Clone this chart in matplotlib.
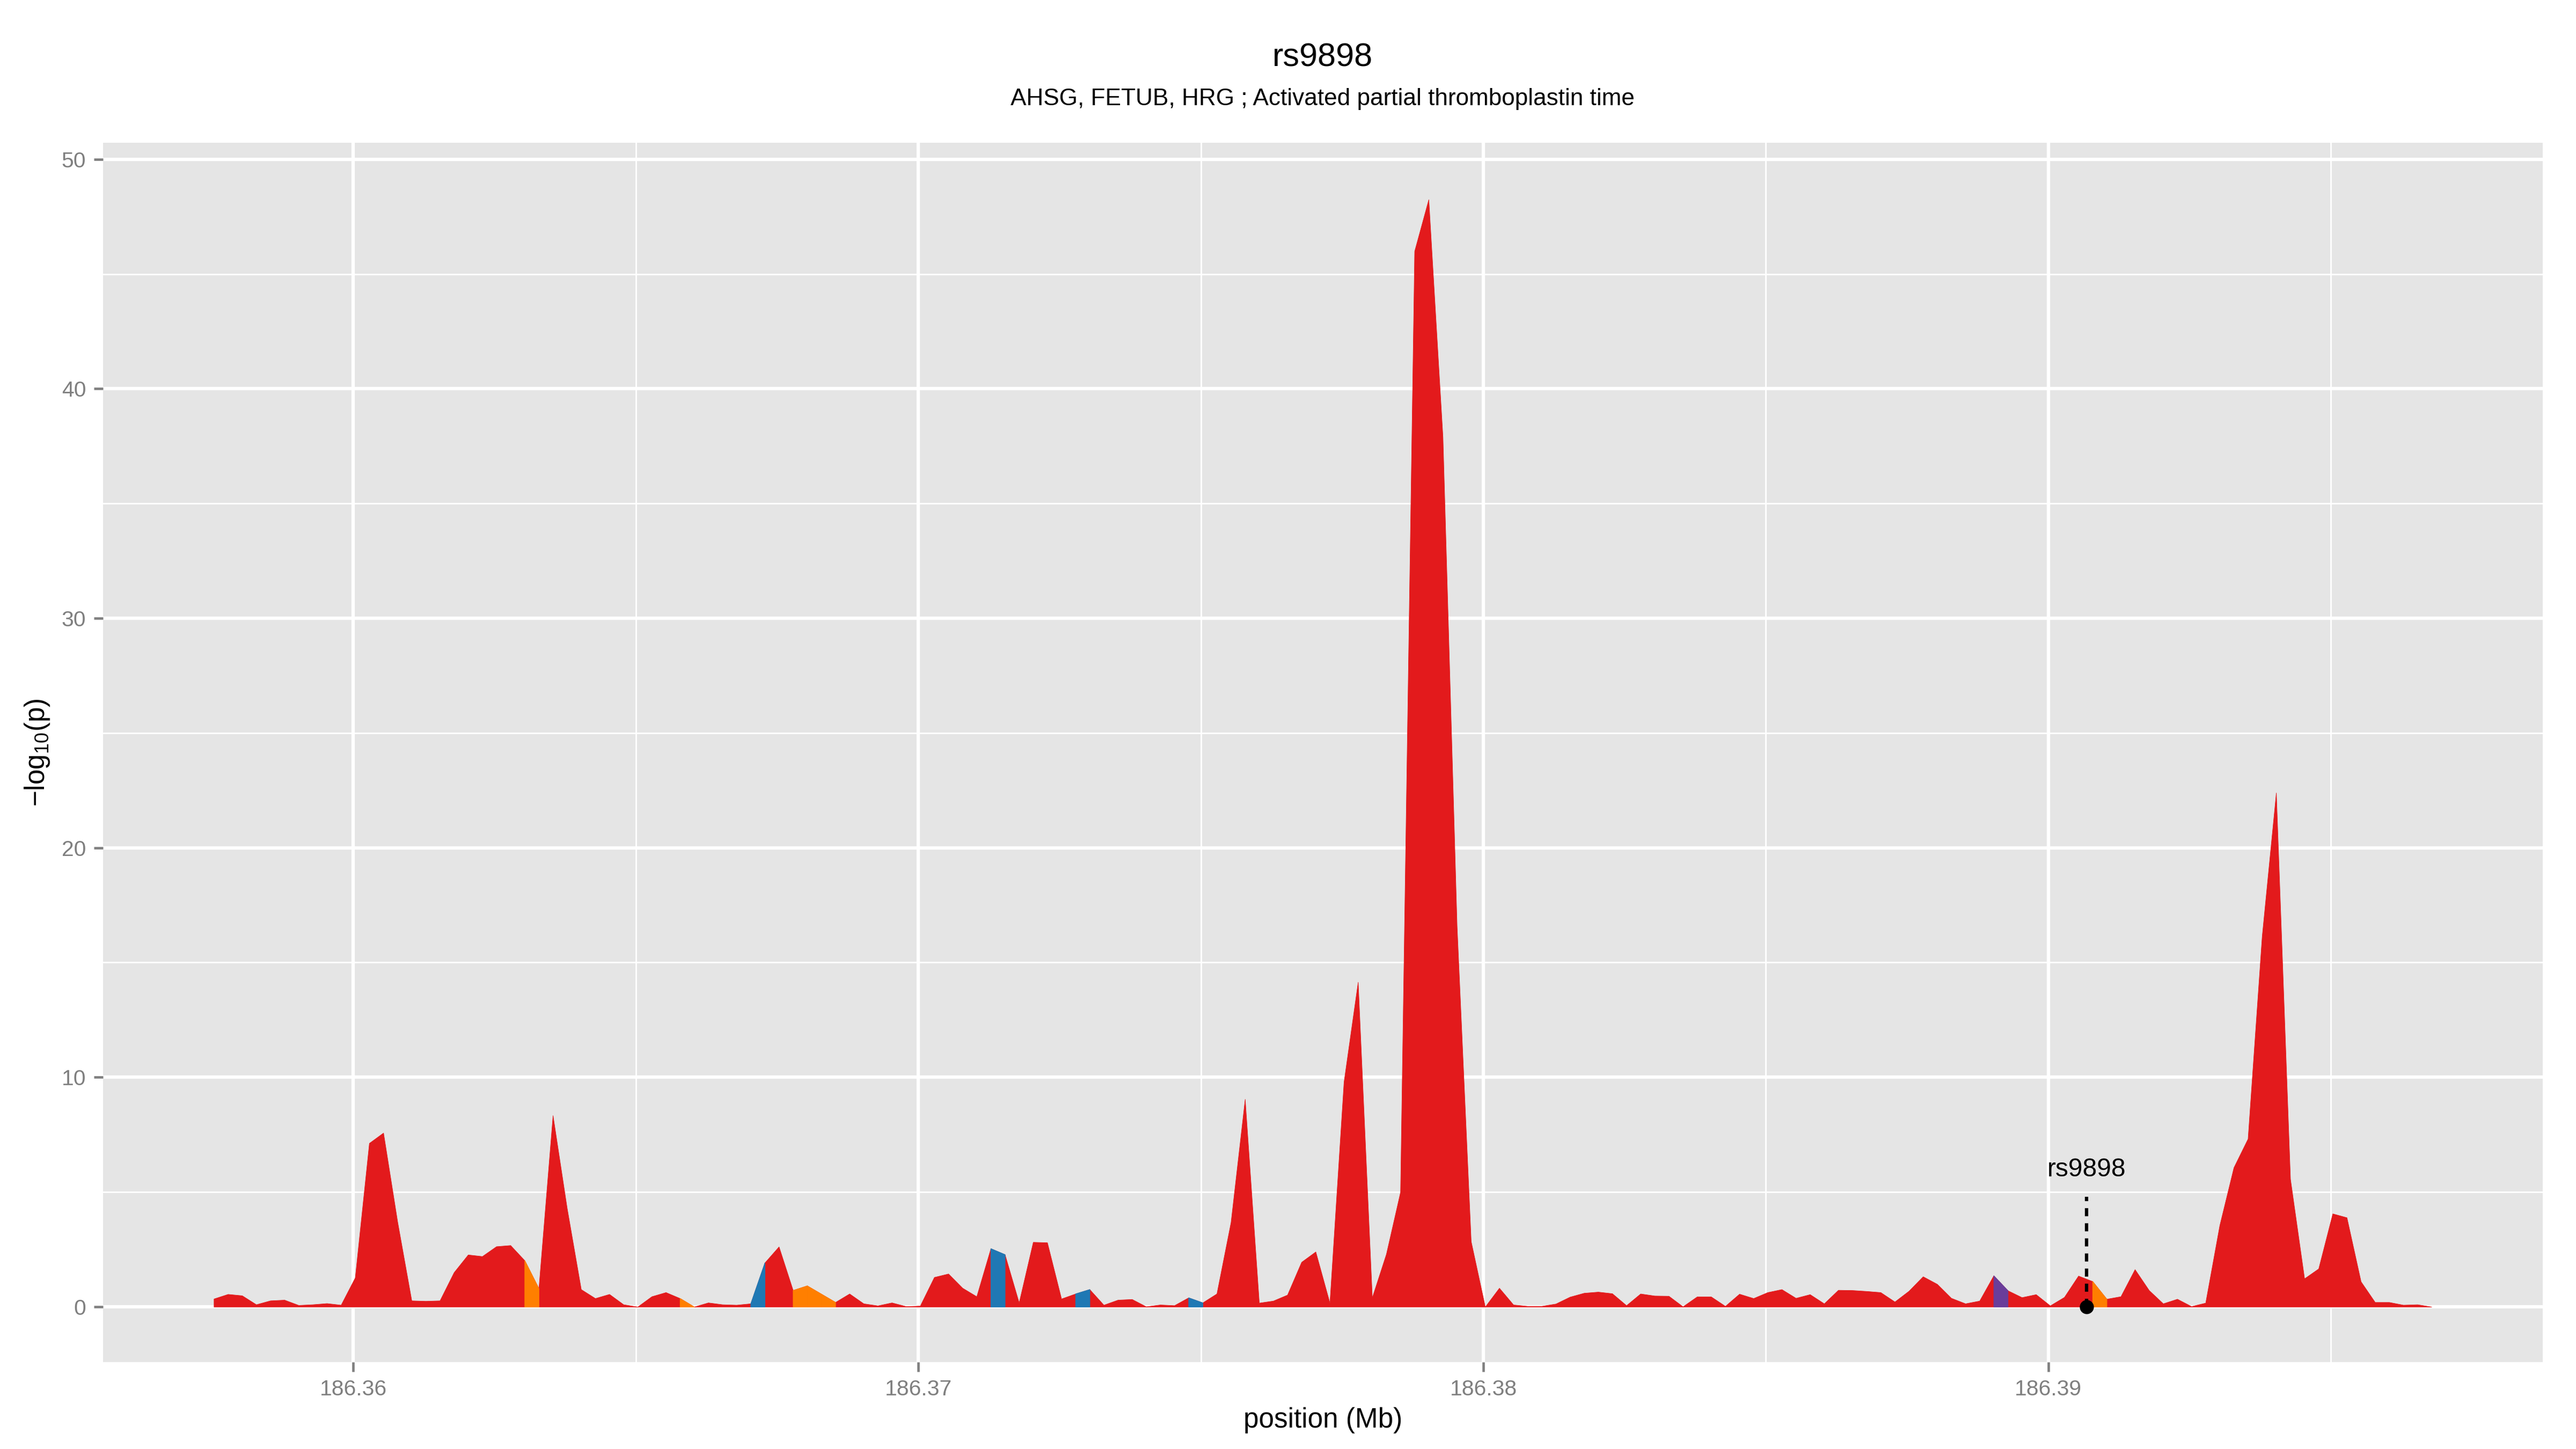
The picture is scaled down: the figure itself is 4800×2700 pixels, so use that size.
import matplotlib
matplotlib.use("Agg")
import matplotlib.pyplot as plt
from matplotlib.ticker import FixedLocator

plt.rcParams['font.family'] = ['Liberation Sans', 'DejaVu Sans']
plt.rcParams['mathtext.fontset'] = 'custom'
plt.rcParams['mathtext.rm'] = 'Liberation Sans'
plt.rcParams['mathtext.it'] = 'Liberation Sans:italic'

# ---------------- data ----------------
title = "rs9898"
subtitle = "AHSG, FETUB, HRG ; Activated partial thromboplastin time"
xlabel = "position (Mb)"

position_mb = [
    186.35753, 186.35778, 186.35803, 186.35828,
    186.35853, 186.35878, 186.35903, 186.35928,
    186.35953, 186.35978, 186.36003, 186.36028,
    186.36053, 186.36078, 186.36103, 186.36128,
    186.36153, 186.36178, 186.36203, 186.36228,
    186.36253, 186.36278, 186.36303, 186.36328,
    186.36353, 186.36378, 186.36403, 186.36428,
    186.36453, 186.36478, 186.36503, 186.36528,
    186.36553, 186.36578, 186.36603, 186.36628,
    186.36653, 186.36678, 186.36703, 186.36728,
    186.36753, 186.36778, 186.36803, 186.36828,
    186.36853, 186.36878, 186.36903, 186.36928,
    186.36953, 186.36978, 186.37003, 186.37028,
    186.37053, 186.37078, 186.37103, 186.37128,
    186.37153, 186.37178, 186.37203, 186.37228,
    186.37253, 186.37278, 186.37303, 186.37328,
    186.37353, 186.37378, 186.37403, 186.37428,
    186.37453, 186.37478, 186.37503, 186.37528,
    186.37553, 186.37578, 186.37603, 186.37628,
    186.37653, 186.37678, 186.37703, 186.37728,
    186.37753, 186.37778, 186.37803, 186.37828,
    186.37853, 186.37878, 186.37903, 186.37928,
    186.37953, 186.37978, 186.38003, 186.38028,
    186.38053, 186.38078, 186.38103, 186.38128,
    186.38153, 186.38178, 186.38203, 186.38228,
    186.38253, 186.38278, 186.38303, 186.38328,
    186.38353, 186.38378, 186.38403, 186.38428,
    186.38453, 186.38478, 186.38503, 186.38528,
    186.38553, 186.38578, 186.38603, 186.38628,
    186.38653, 186.38678, 186.38703, 186.38728,
    186.38753, 186.38778, 186.38803, 186.38828,
    186.38853, 186.38878, 186.38903, 186.38928,
    186.38953, 186.38978, 186.39003, 186.39028,
    186.39053, 186.39078, 186.39103, 186.39128,
    186.39153, 186.39178, 186.39203, 186.39228,
    186.39253, 186.39278, 186.39303, 186.39328,
    186.39353, 186.39378, 186.39403, 186.39428,
    186.39453, 186.39478, 186.39503, 186.39528,
    186.39553, 186.39578, 186.39603, 186.39628,
    186.39653, 186.39678,
]

neg_log10_p = [
    0.35, 0.55, 0.49, 0.10, 0.27, 0.30, 0.07, 0.10, 0.15, 0.08,
    1.27, 7.13, 7.58, 3.70, 0.27, 0.25, 0.27, 1.50, 2.27, 2.20,
    2.63, 2.68, 2.02, 0.80, 8.34, 4.30, 0.76, 0.37, 0.55, 0.10,
    0.00, 0.45, 0.63, 0.37, 0.00, 0.18, 0.10, 0.08, 0.14, 1.92,
    2.62, 0.72, 0.92, 0.56, 0.20, 0.57, 0.14, 0.05, 0.18, 0.02,
    0.04, 1.29, 1.44, 0.82, 0.45, 2.54, 2.28, 0.18, 2.82, 2.80,
    0.35, 0.57, 0.76, 0.08, 0.30, 0.33, 0.01, 0.09, 0.06, 0.40,
    0.18, 0.57, 3.68, 9.05, 0.17, 0.26, 0.52, 1.95, 2.40, 0.17,
    9.80, 14.15, 0.40, 2.30, 5.00, 46.00, 48.25, 37.90, 16.60, 2.85,
    0.00, 0.82, 0.09, 0.03, 0.03, 0.13, 0.43, 0.60, 0.65, 0.58,
    0.06, 0.57, 0.48, 0.47, 0.01, 0.44, 0.44, 0.03, 0.56, 0.37,
    0.63, 0.76, 0.38, 0.54, 0.14, 0.73, 0.72, 0.68, 0.63, 0.22,
    0.69, 1.32, 0.99, 0.38, 0.14, 0.26, 1.36, 0.71, 0.41, 0.54,
    0.05, 0.42, 1.35, 1.11, 0.34, 0.45, 1.63, 0.72, 0.14, 0.34,
    0.02, 0.17, 3.55, 6.07, 7.32, 16.14, 22.40, 5.57, 1.23, 1.66,
    4.06, 3.89, 1.10, 0.20, 0.20, 0.08, 0.10, 0.00,
]

# segments (index of left point) drawn in a non-default LD colour
orange_segments = [22, 33, 41, 42, 43, 133]
blue_segments = [38, 55, 61, 69]
purple_segments = [126]

snp_label = "rs9898"
snp_position = 186.39068
snp_line_top = 4.8
snp_label_y = 5.97

x_ticks = [186.36, 186.37, 186.38, 186.39]
x_tick_labels = ["186.36", "186.37", "186.38", "186.39"]
x_minor = [186.355, 186.365, 186.375, 186.385, 186.395]
y_ticks = [0, 10, 20, 30, 40, 50]
y_minor = [5, 15, 25, 35, 45]

RED = "#E31A1C"
ORANGE = "#FF7F00"
BLUE = "#1F78B4"
PURPLE = "#6A3D9A"
GREY_TXT = "#7F7F7F"

# ---------------- plot ----------------
fig = plt.figure(figsize=(16, 9), dpi=300)
ax = fig.add_axes([0.04, 0.0600, 0.9471, 0.8415])
ax.set_facecolor("#E5E5E5")
for s in ax.spines.values():
    s.set_visible(False)

ax.fill_between(position_mb, 0, neg_log10_p, color=RED, linewidth=0.2,
                edgecolor=RED, zorder=2)
for segs, col in ((orange_segments, ORANGE), (blue_segments, BLUE),
                  (purple_segments, PURPLE)):
    for i in segs:
        ax.fill_between(position_mb[i:i + 2], 0, neg_log10_p[i:i + 2],
                        color=col, linewidth=0.3, edgecolor=col, zorder=3)

ax.plot([snp_position, snp_position], [0, snp_line_top], color="black",
        lw=1.5, linestyle=(0, (2.4, 2.1)), zorder=4)
ax.plot([snp_position], [0], marker="o", color="black", ms=5.3, zorder=5)
ax.text(snp_position, snp_label_y, snp_label, ha="center", va="center",
        fontsize=11.5, color="black", zorder=5)

ax.set_xlim(186.35557, 186.39875)
ax.set_ylim(-2.41, 50.72)
ax.xaxis.set_major_locator(FixedLocator(x_ticks))
ax.set_xticklabels(x_tick_labels)
ax.xaxis.set_minor_locator(FixedLocator(x_minor))
ax.yaxis.set_major_locator(FixedLocator(y_ticks))
ax.yaxis.set_minor_locator(FixedLocator(y_minor))
ax.set_axisbelow(True)
ax.grid(which="major", color="white", lw=1.5, zorder=0)
ax.grid(which="minor", color="white", lw=0.7, zorder=0)
ax.tick_params(which="major", length=4.2, width=1.1, color=GREY_TXT,
               labelcolor=GREY_TXT, labelsize=9.8, pad=3.4)
ax.tick_params(which="minor", length=0)

ax.set_xlabel(xlabel, fontsize=12.3, labelpad=3.5)
ax.set_ylabel(r"$\mathrm{-log_{10}(p)}$", fontsize=12.3, labelpad=4.5)

fig.text(0.5135, 0.9600, title, ha="center", va="center", fontsize=14.7)
fig.text(0.5135, 0.9318, subtitle, ha="center", va="center", fontsize=10.6)

fig.savefig("out.png", dpi=300)
